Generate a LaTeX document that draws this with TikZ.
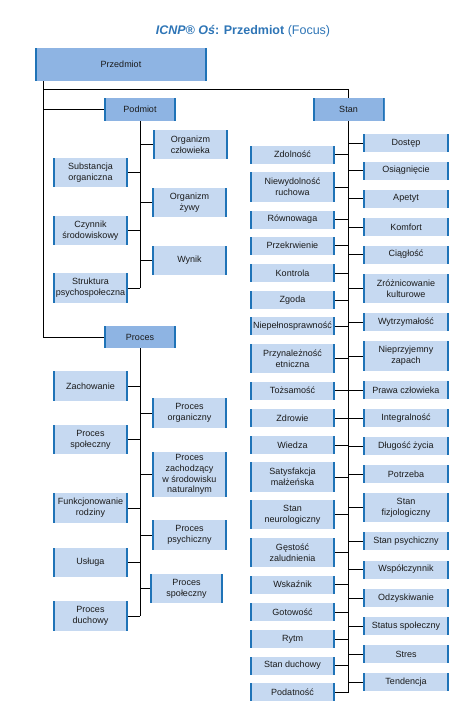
\documentclass[tikz,border=0pt]{standalone}
\usepackage{fontspec}
\setmainfont{Liberation Sans}
\definecolor{hdr}{HTML}{8EB4E3}
\definecolor{chl}{HTML}{C6D9F1}
\definecolor{bar}{HTML}{1F73B7}
\definecolor{ttl}{HTML}{2E75B6}
\definecolor{txt}{HTML}{1A1A1A}
\tikzset{
  base/.style={rectangle, inner sep=0pt, align=center, text=txt,
    font=\fontsize{9}{10.7}\selectfont,
    path picture={
      \fill[bar] (path picture bounding box.south west) rectangle ([xshift=2pt]path picture bounding box.north west);
      \fill[bar] (path picture bounding box.south east) rectangle ([xshift=-2pt]path picture bounding box.north east);}},
  hbox/.style={base, fill=hdr},
  cbox/.style={base, fill=chl},
  one/.style={minimum height=18pt},
  two/.style={minimum height=29.5pt},
  pw/.style={minimum width=75pt},
  sl/.style={cbox, minimum width=85pt},
  sr/.style={cbox, minimum width=86pt},
  conn/.style={draw=black, line width=0.8pt}
}
\begin{document}
\begin{tikzpicture}[x=1pt, y=-1pt]
\useasboundingbox (0,0) rectangle (476,709);
\node (title) at (243,31) {\fontsize{12.5}{14}\selectfont\color{ttl}\bfseries\itshape ICNP® Oś\upshape: Przedmiot \mdseries(Focus)};
% headers
\node[hbox, minimum width=172pt, minimum height=33pt] (przedmiot) at (121,64.5) {Przedmiot};
\node[hbox, minimum width=72pt, minimum height=23pt] (podmiot) at (140,109.5) {Podmiot};
\node[hbox, minimum width=72pt, minimum height=23pt] (stan) at (348.5,109.5) {Stan};
\node[hbox, minimum width=72pt, minimum height=22pt] (proces) at (140,337) {Proces};
% main connectors
\coordinate (m0) at (43,81);
\coordinate (m1) at (43,89);
\draw[conn] (m0) -- (m0 |- proces.west) -- (proces.west);
\draw[conn] (m1) -| (stan.north);
\draw[conn] (m0 |- podmiot.west) -- (podmiot.west);
% Podmiot children
\node[cbox, pw, two] (oc) at (190.5,144.5) {Organizm\\człowieka};
\node[cbox, pw, two] (so) at (90.5,172.5) {Substancja\\organiczna};
\node[cbox, pw, two] (oz) at (189.5,202.5) {Organizm\\żywy};
\node[cbox, pw, two] (cs) at (90.5,230.5) {Czynnik\\środowiskowy};
\node[cbox, pw, two] (wy) at (189.5,260.5) {Wynik};
\node[cbox, pw, two] (sp) at (90.5,288) {Struktura\\psychospołeczna};
\draw[conn] (podmiot.south) -- (podmiot.south |- sp.east);
\foreach \n in {oc,oz,wy}{\draw[conn] (\n.west) -- (\n.west -| podmiot.south);}
\foreach \n in {so,cs,sp}{\draw[conn] (\n.east) -- (\n.east -| podmiot.south);}
% Proces children
\node[cbox, pw, two] (za) at (90.5,386) {Zachowanie};
\node[cbox, pw, two] (po) at (189.5,413) {Proces\\organiczny};
\node[cbox, pw, two] (ps1) at (90.5,439.5) {Proces\\społeczny};
\node[cbox, pw, minimum height=45pt] (pz) at (189.5,474.5) {Proces\\zachodzący\\w środowisku\\naturalnym};
\node[cbox, pw, two] (fr) at (90.5,508) {Funkcjonowanie\\rodziny};
\node[cbox, pw, two] (pp) at (189.5,535) {Proces\\psychiczny};
\node[cbox, pw, two] (us) at (90.5,562.5) {Usługa};
\node[cbox, minimum width=73pt, two] (ps2) at (186.5,588.5) {Proces\\społeczny};
\node[cbox, pw, two] (pd) at (90.5,616) {Proces\\duchowy};
\draw[conn] (proces.south) -- (proces.south |- pd.east);
\foreach \n in {po,pz,pp,ps2}{\draw[conn] (\n.west) -- (\n.west -| proces.south);}
\foreach \n in {za,ps1,fr,us,pd}{\draw[conn] (\n.east) -- (\n.east -| proces.south);}
% Stan children, left
\node[sl, one] (l1) at (292.5,154.5) {Zdolność};
\node[sl, two] (l2) at (292.5,187) {Niewydolność\\ruchowa};
\node[sl, one] (l3) at (292.5,219.5) {Równowaga};
\node[sl, one] (l4) at (292.5,245.5) {Przekrwienie};
\node[sl, one] (l5) at (292.5,273) {Kontrola};
\node[sl, one] (l6) at (292.5,300) {Zgoda};
\node[sl, one] (l7) at (292.5,326) {Niepełnosprawność};
\node[sl, two] (l8) at (292.5,358.5) {Przynależność\\etniczna};
\node[sl, one] (l9) at (292.5,390.5) {Tożsamość};
\node[sl, one] (l10) at (292.5,418) {Zdrowie};
\node[sl, one] (l11) at (292.5,445) {Wiedza};
\node[sl, two] (l12) at (292.5,477) {Satysfakcja\\małżeńska};
\node[sl, two] (l13) at (292.5,514.5) {Stan\\neurologiczny};
\node[sl, two] (l14) at (292.5,552.5) {Gęstość\\zaludnienia};
\node[sl, one] (l15) at (292.5,584.5) {Wskaźnik};
\node[sl, one] (l16) at (292.5,612) {Gotowość};
\node[sl, one] (l17) at (292.5,639) {Rytm};
\node[sl, one] (l18) at (292.5,665.5) {Stan duchowy};
\node[sl, one] (l19) at (292.5,692) {Podatność};
% Stan children, right
\node[sr, one] (r1) at (406,143) {Dostęp};
\node[sr, one] (r2) at (406,170.5) {Osiągnięcie};
\node[sr, one] (r3) at (406,198.5) {Apetyt};
\node[sr, one] (r4) at (406,227) {Komfort};
\node[sr, one] (r5) at (406,254.5) {Ciągłość};
\node[sr, two] (r6) at (406,288.5) {Zróżnicowanie\\kulturowe};
\node[sr, one] (r7) at (406,322) {Wytrzymałość};
\node[sr, two] (r8) at (406,356) {Nieprzyjemny\\zapach};
\node[sr, one] (r9) at (406,390) {Prawa człowieka};
\node[sr, one] (r10) at (406,418) {Integralność};
\node[sr, one] (r11) at (406,446) {Długość życia};
\node[sr, one] (r12) at (406,474) {Potrzeba};
\node[sr, two] (r13) at (406,507.5) {Stan\\fizjologiczny};
\node[sr, one] (r14) at (406,541) {Stan psychiczny};
\node[sr, one] (r15) at (406,569.5) {Współczynnik};
\node[sr, one] (r16) at (406,598) {Odzyskiwanie};
\node[sr, one] (r17) at (406,626) {Status społeczny};
\node[sr, one] (r18) at (406,654) {Stres};
\node[sr, one] (r19) at (406,682) {Tendencja};
\draw[conn] (stan.south) -- (stan.south |- l19.east);
\foreach \i in {1,...,19}{
  \draw[conn] (l\i.east) -- (l\i.east -| stan.south);
  \draw[conn] (r\i.west) -- (r\i.west -| stan.south);
}
\end{tikzpicture}
\end{document}
